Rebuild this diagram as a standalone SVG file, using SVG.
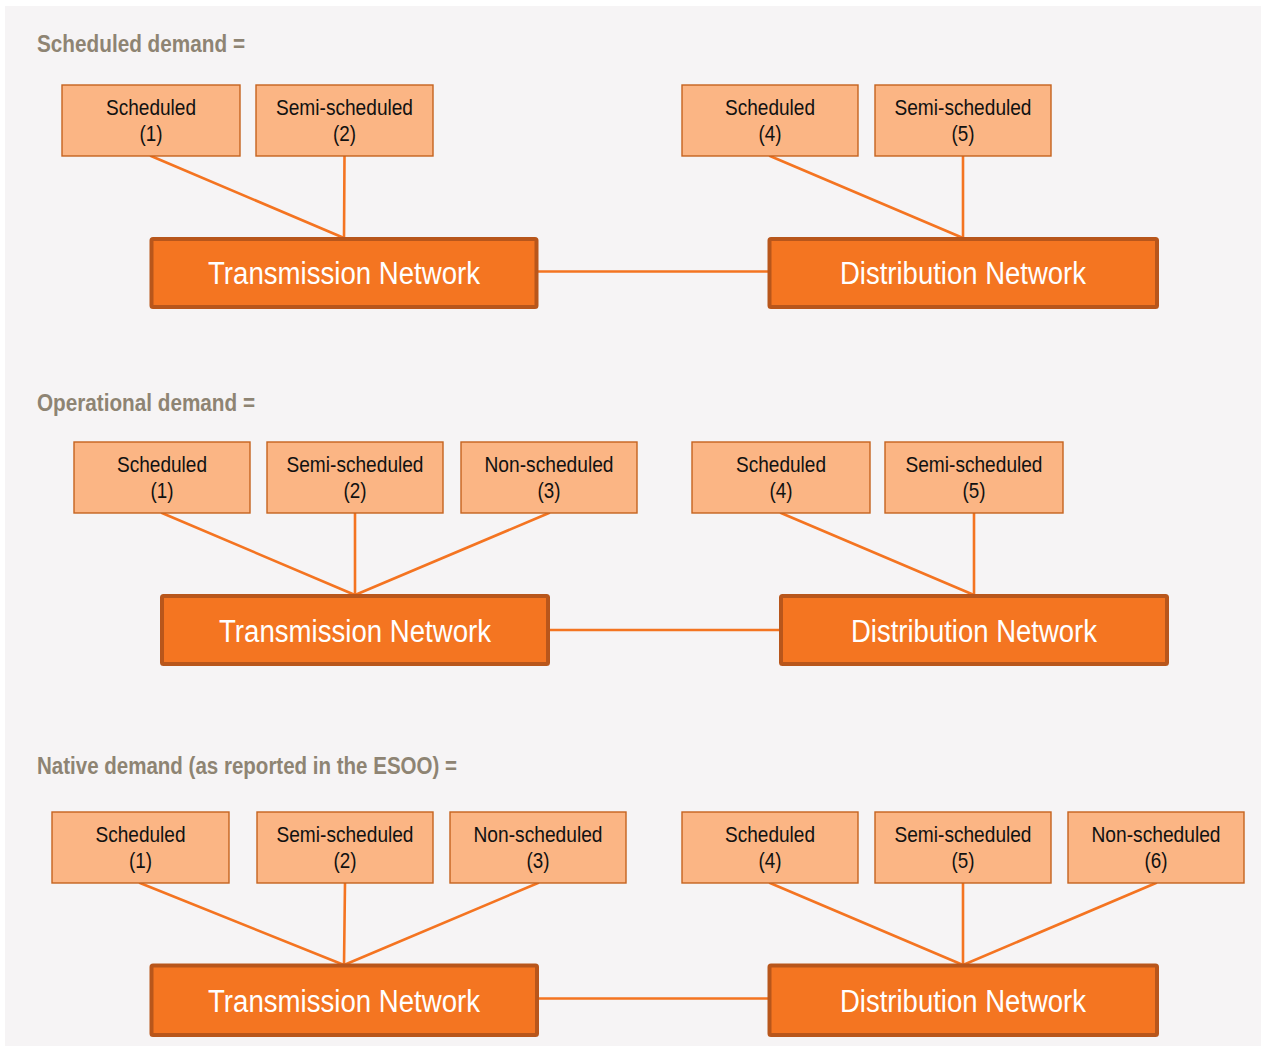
<svg xmlns="http://www.w3.org/2000/svg" width="1261" height="1046" viewBox="0 0 1261 1046">
  <style>
    .panel { fill: #f6f4f5; }
    .title { font-family: "Liberation Sans", Arial, sans-serif; font-weight: bold; font-size: 23px; fill: #8e8473; }
    .unit rect { fill: #fbb584; stroke: #c5631f; stroke-width: 1.4; }
    .unit text { font-family: "Liberation Sans", Arial, sans-serif; font-size: 22px; fill: #111111; text-anchor: middle; }
    .net rect { fill: #f47521; stroke: #b8561b; stroke-width: 4; }
    .net text { font-family: "Liberation Sans", Arial, sans-serif; font-size: 31px; fill: #ffffff; text-anchor: middle; }
    .wires line { stroke: #f47421; stroke-width: 2.6; stroke-linecap: round; }
  </style>

  <rect class="panel" x="5" y="6" width="1256" height="1040"/>

  <!-- ===== Scheduled demand ===== -->
  <text class="title" x="37" y="52" textLength="208" lengthAdjust="spacingAndGlyphs">Scheduled demand =</text>

  <g id="s1-wires" class="wires">
    <line x1="151" y1="156" x2="344" y2="238"/>
    <line x1="344.5" y1="156" x2="344" y2="238"/>
    <line x1="770" y1="156" x2="963" y2="238"/>
    <line x1="963" y1="156" x2="963" y2="238"/>
    <line x1="538" y1="271.5" x2="768" y2="271.5"/>
  </g>

  <g id="s1-sched1" class="unit">
    <rect x="62" y="85" width="178" height="71"/>
    <text x="151" y="115" textLength="90" lengthAdjust="spacingAndGlyphs">Scheduled</text>
    <text x="151" y="141" textLength="23" lengthAdjust="spacingAndGlyphs">(1)</text>
  </g>
  <g id="s1-semi2" class="unit">
    <rect x="256" y="85" width="177" height="71"/>
    <text x="344.5" y="115" textLength="137" lengthAdjust="spacingAndGlyphs">Semi-scheduled</text>
    <text x="344.5" y="141" textLength="23" lengthAdjust="spacingAndGlyphs">(2)</text>
  </g>
  <g id="s1-sched4" class="unit">
    <rect x="682" y="85" width="176" height="71"/>
    <text x="770" y="115" textLength="90" lengthAdjust="spacingAndGlyphs">Scheduled</text>
    <text x="770" y="141" textLength="23" lengthAdjust="spacingAndGlyphs">(4)</text>
  </g>
  <g id="s1-semi5" class="unit">
    <rect x="875" y="85" width="176" height="71"/>
    <text x="963" y="115" textLength="137" lengthAdjust="spacingAndGlyphs">Semi-scheduled</text>
    <text x="963" y="141" textLength="23" lengthAdjust="spacingAndGlyphs">(5)</text>
  </g>
  <g id="s1-transmission" class="net">
    <rect x="151.5" y="239" width="385" height="68" rx="1.5"/>
    <text x="344" y="283.5" textLength="272" lengthAdjust="spacingAndGlyphs">Transmission Network</text>
  </g>
  <g id="s1-distribution" class="net">
    <rect x="769.5" y="239" width="387.5" height="68" rx="1.5"/>
    <text x="963" y="283.5" textLength="246" lengthAdjust="spacingAndGlyphs">Distribution Network</text>
  </g>

  <!-- ===== Operational demand ===== -->
  <text class="title" x="37" y="410.5" textLength="218" lengthAdjust="spacingAndGlyphs">Operational demand =</text>

  <g id="s2-wires" class="wires">
    <line x1="162" y1="513" x2="355" y2="595"/>
    <line x1="355" y1="513" x2="355" y2="595"/>
    <line x1="549" y1="513" x2="355" y2="595"/>
    <line x1="781" y1="513" x2="974" y2="595"/>
    <line x1="974" y1="513" x2="974" y2="595"/>
    <line x1="549" y1="630" x2="780" y2="630"/>
  </g>

  <g id="s2-sched1" class="unit">
    <rect x="74" y="442" width="176" height="71"/>
    <text x="162" y="472" textLength="90" lengthAdjust="spacingAndGlyphs">Scheduled</text>
    <text x="162" y="498" textLength="23" lengthAdjust="spacingAndGlyphs">(1)</text>
  </g>
  <g id="s2-semi2" class="unit">
    <rect x="267" y="442" width="176" height="71"/>
    <text x="355" y="472" textLength="137" lengthAdjust="spacingAndGlyphs">Semi-scheduled</text>
    <text x="355" y="498" textLength="23" lengthAdjust="spacingAndGlyphs">(2)</text>
  </g>
  <g id="s2-non3" class="unit">
    <rect x="461" y="442" width="176" height="71"/>
    <text x="549" y="472" textLength="129" lengthAdjust="spacingAndGlyphs">Non-scheduled</text>
    <text x="549" y="498" textLength="23" lengthAdjust="spacingAndGlyphs">(3)</text>
  </g>
  <g id="s2-sched4" class="unit">
    <rect x="692" y="442" width="178" height="71"/>
    <text x="781" y="472" textLength="90" lengthAdjust="spacingAndGlyphs">Scheduled</text>
    <text x="781" y="498" textLength="23" lengthAdjust="spacingAndGlyphs">(4)</text>
  </g>
  <g id="s2-semi5" class="unit">
    <rect x="885" y="442" width="178" height="71"/>
    <text x="974" y="472" textLength="137" lengthAdjust="spacingAndGlyphs">Semi-scheduled</text>
    <text x="974" y="498" textLength="23" lengthAdjust="spacingAndGlyphs">(5)</text>
  </g>
  <g id="s2-transmission" class="net">
    <rect x="162" y="596" width="386" height="68" rx="1.5"/>
    <text x="355" y="641.5" textLength="272" lengthAdjust="spacingAndGlyphs">Transmission Network</text>
  </g>
  <g id="s2-distribution" class="net">
    <rect x="781" y="596" width="386" height="68" rx="1.5"/>
    <text x="974" y="641.5" textLength="246" lengthAdjust="spacingAndGlyphs">Distribution Network</text>
  </g>

  <!-- ===== Native demand ===== -->
  <text class="title" x="37" y="774" textLength="420" lengthAdjust="spacingAndGlyphs">Native demand (as reported in the ESOO) =</text>

  <g id="s3-wires" class="wires">
    <line x1="140" y1="883" x2="344" y2="965"/>
    <line x1="345" y1="883" x2="344" y2="965"/>
    <line x1="538" y1="883" x2="344" y2="965"/>
    <line x1="770" y1="883" x2="963" y2="965"/>
    <line x1="963" y1="883" x2="963" y2="965"/>
    <line x1="1156" y1="883" x2="963" y2="965"/>
    <line x1="538" y1="998.5" x2="768" y2="998.5"/>
  </g>

  <g id="s3-sched1" class="unit">
    <rect x="52" y="812" width="177" height="71"/>
    <text x="140.5" y="842" textLength="90" lengthAdjust="spacingAndGlyphs">Scheduled</text>
    <text x="140.5" y="868" textLength="23" lengthAdjust="spacingAndGlyphs">(1)</text>
  </g>
  <g id="s3-semi2" class="unit">
    <rect x="257" y="812" width="176" height="71"/>
    <text x="345" y="842" textLength="137" lengthAdjust="spacingAndGlyphs">Semi-scheduled</text>
    <text x="345" y="868" textLength="23" lengthAdjust="spacingAndGlyphs">(2)</text>
  </g>
  <g id="s3-non3" class="unit">
    <rect x="450" y="812" width="176" height="71"/>
    <text x="538" y="842" textLength="129" lengthAdjust="spacingAndGlyphs">Non-scheduled</text>
    <text x="538" y="868" textLength="23" lengthAdjust="spacingAndGlyphs">(3)</text>
  </g>
  <g id="s3-sched4" class="unit">
    <rect x="682" y="812" width="176" height="71"/>
    <text x="770" y="842" textLength="90" lengthAdjust="spacingAndGlyphs">Scheduled</text>
    <text x="770" y="868" textLength="23" lengthAdjust="spacingAndGlyphs">(4)</text>
  </g>
  <g id="s3-semi5" class="unit">
    <rect x="875" y="812" width="176" height="71"/>
    <text x="963" y="842" textLength="137" lengthAdjust="spacingAndGlyphs">Semi-scheduled</text>
    <text x="963" y="868" textLength="23" lengthAdjust="spacingAndGlyphs">(5)</text>
  </g>
  <g id="s3-non6" class="unit">
    <rect x="1068" y="812" width="176" height="71"/>
    <text x="1156" y="842" textLength="129" lengthAdjust="spacingAndGlyphs">Non-scheduled</text>
    <text x="1156" y="868" textLength="23" lengthAdjust="spacingAndGlyphs">(6)</text>
  </g>
  <g id="s3-transmission" class="net">
    <rect x="151.5" y="965.5" width="385.5" height="69.5" rx="1.5"/>
    <text x="344" y="1012" textLength="272" lengthAdjust="spacingAndGlyphs">Transmission Network</text>
  </g>
  <g id="s3-distribution" class="net">
    <rect x="769.5" y="965.5" width="387.5" height="69.5" rx="1.5"/>
    <text x="963" y="1012" textLength="246" lengthAdjust="spacingAndGlyphs">Distribution Network</text>
  </g>
</svg>
